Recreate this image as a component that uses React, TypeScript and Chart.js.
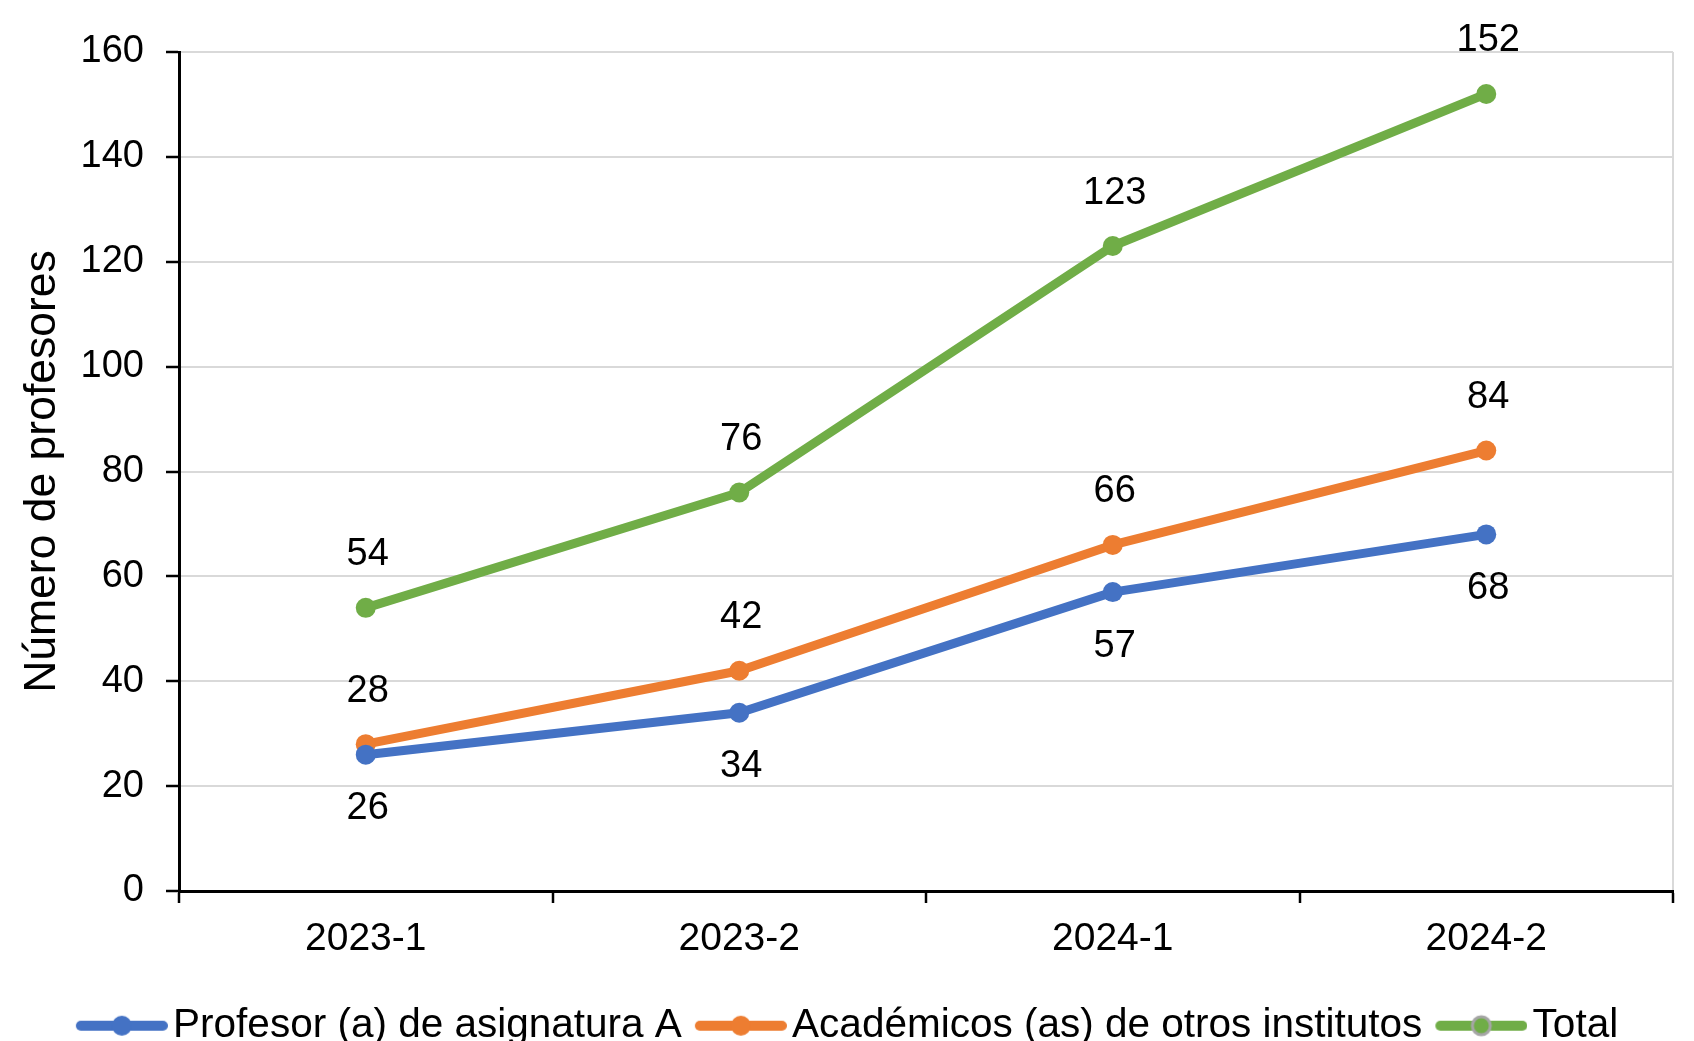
import React, { useEffect, useRef } from "react";
import { Chart, registerables } from "chart.js";

Chart.register(...registerables);

const categories = ["2023-1", "2023-2", "2024-1", "2024-2"];
const seriesNames = [
  "Profesor (a) de asignatura A",
  "Académicos (as) de otros institutos",
  "Total",
];
const profesorA = [26, 34, 57, 68];
const academicos = [28, 42, 66, 84];
const total = [54, 76, 123, 152];
const yTicks = [0, 20, 40, 60, 80, 100, 120, 140, 160];
const colors = ["#4472C4", "#ED7D31", "#70AD47"];
const labelBelow = [true, false, false];

const FONT = "'Liberation Sans', Arial, sans-serif";

// legend marker image: 107 wide, marker (92 long) right-aligned
function makeLegendImage(color: string, border: string | null) {
  const c = document.createElement("canvas");
  c.width = 107;
  c.height = 24;
  const ctx = c.getContext("2d")!;
  const x0 = 15;
  const x1 = 107;
  ctx.strokeStyle = color;
  ctx.lineWidth = 10;
  ctx.lineCap = "round";
  ctx.beginPath();
  ctx.moveTo(x0 + 5, 12);
  ctx.lineTo(x1 - 5, 12);
  ctx.stroke();
  ctx.beginPath();
  ctx.arc((x0 + x1) / 2, 12, border ? 9 : 10, 0, Math.PI * 2);
  ctx.fillStyle = color;
  ctx.fill();
  if (border) {
    ctx.lineWidth = 3;
    ctx.strokeStyle = border;
    ctx.stroke();
  }
  return c;
}

const dataLabelPlugin = {
  id: "dataLabels",
  afterDatasetsDraw(chart: any) {
    const ctx = chart.ctx;
    ctx.save();
    ctx.font = `38px ${FONT}`;
    ctx.fillStyle = "#000";
    ctx.textAlign = "center";
    ctx.textBaseline = "middle";
    chart.data.datasets.forEach((ds: any, di: number) => {
      const meta = chart.getDatasetMeta(di);
      meta.data.forEach((pt: any, i: number) => {
        const off = labelBelow[di] ? 54 : -53;
        ctx.fillText(String(ds.data[i]), pt.x + 2, pt.y + off);
      });
    });
    ctx.restore();
  },
};

export default function App() {
  const ref = useRef<HTMLCanvasElement>(null);
  useEffect(() => {
    if (!ref.current) return;
    const images = [
      makeLegendImage(colors[0], null),
      makeLegendImage(colors[1], null),
      makeLegendImage(colors[2], "#A5A5A5"),
    ];
    const values = [profesorA, academicos, total];
    const chart = new Chart(ref.current, {
      type: "line",
      data: {
        labels: categories,
        datasets: values.map((v, i) => ({
          label: seriesNames[i],
          data: v,
          borderColor: colors[i],
          backgroundColor: colors[i],
          pointBackgroundColor: colors[i],
          pointBorderWidth: 0,
          pointRadius: 10,
          borderWidth: 9,
          borderCapStyle: "round",
          borderJoinStyle: "round",
          tension: 0,
          fill: false,
          yAxisID: "y",
        })),
      },
      options: {
        responsive: false,
        animation: false,
        layout: { padding: { left: 0, right: 0, top: 52, bottom: -15 } },
        plugins: {
          tooltip: { enabled: false },
          legend: {
            position: "bottom",
            labels: {
              usePointStyle: true,
              pointStyleWidth: 77,
              padding: 13,
              color: "#000",
              font: { size: 40.5, family: FONT },
              generateLabels: (ch: any) => {
                const items = Chart.defaults.plugins.legend.labels.generateLabels(ch);
                items.forEach((it: any, i: number) => {
                  it.pointStyle = images[i];
                });
                return items;
              },
            },
          },
        },
        scales: {
          x: {
            offset: true,
            afterFit: (s: any) => {
              s.height = 101.5;
            },
            border: { color: "#000", width: 3 },
            grid: {
              offset: true,
              drawOnChartArea: true,
              drawTicks: true,
              tickLength: 12,
              tickWidth: 2.5,
              tickColor: "#000",
              lineWidth: 2,
              color: (c: any) => (c.type === "scale" ? "#D9D9D9" : "rgba(0,0,0,0)"),
            },
            ticks: {
              color: "#000",
              padding: 13,
              font: { size: 39, family: FONT },
              maxRotation: 0,
            },
          },
          y: {
            position: "left",
            min: yTicks[0],
            max: yTicks[yTicks.length - 1],
            afterFit: (s: any) => {
              s.width = 179;
            },
            afterBuildTicks: (s: any) => {
              s.ticks = yTicks.map((v) => ({ value: v }));
            },
            border: { color: "#000", width: 3 },
            grid: {
              color: "#D9D9D9",
              lineWidth: 2,
              drawTicks: true,
              tickLength: 13,
              tickWidth: 2.5,
              tickColor: "#000",
            },
            ticks: {
              color: "#000",
              padding: 22,
              font: { size: 38, family: FONT },
            },
            title: {
              display: true,
              text: "Número de profesores",
              color: "#000",
              font: { size: 44.5, family: FONT },
              padding: { top: 16, bottom: 0 },
            },
          },
          yRight: {
            position: "right",
            min: yTicks[0],
            max: yTicks[yTicks.length - 1],
            afterFit: (s: any) => {
              s.width = 21;
            },
            border: { display: false },
            grid: { display: false, drawTicks: false },
            ticks: { display: false },
          },
        },
      },
      plugins: [dataLabelPlugin],
    } as any);
    return () => chart.destroy();
  }, []);
  return (
    <div style={{ position: "fixed", left: 0, top: 0, width: 1694, height: 1041, background: "#fff" }}>
      <canvas ref={ref} width={1694} height={1041} style={{ display: "block" }} />
    </div>
  );
}
